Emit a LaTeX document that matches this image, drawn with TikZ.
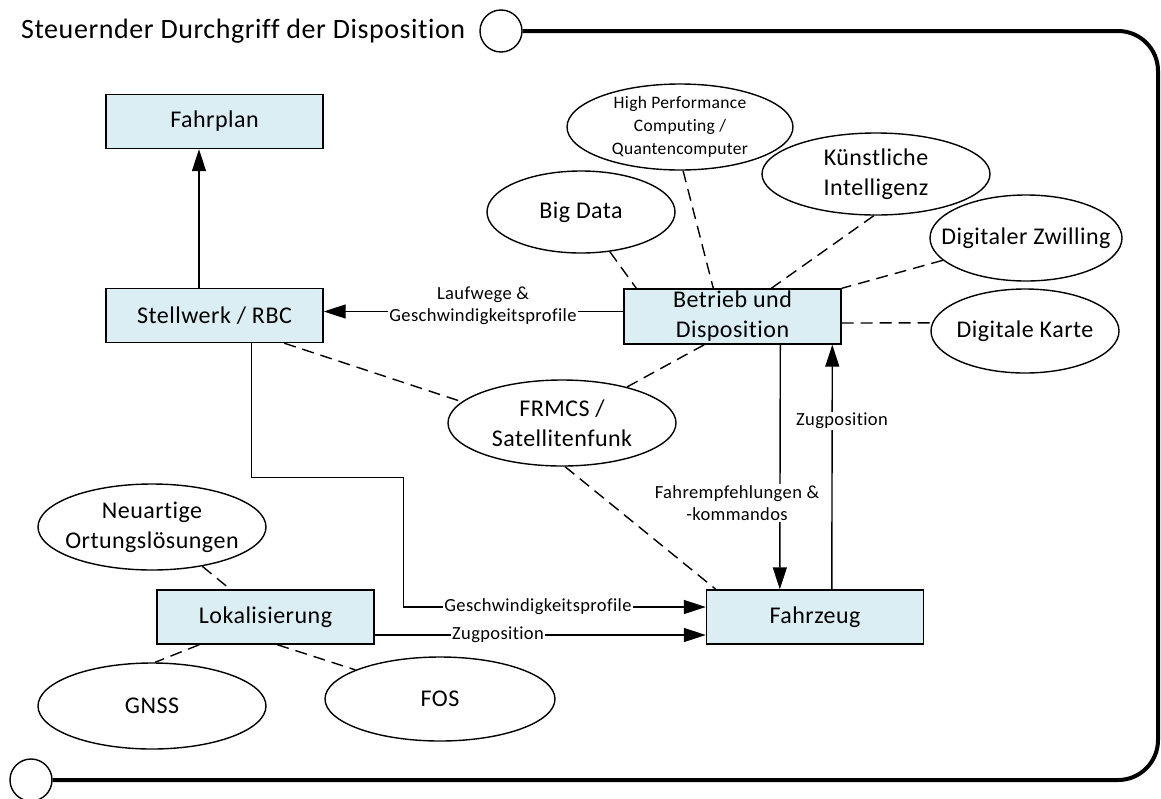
\documentclass[tikz,border=0pt]{standalone}
\usepackage{fontspec}
\setmainfont{Carlito}[Ligatures=NoCommon, LetterSpace=2]
\usetikzlibrary{arrows.meta,shapes.geometric,calc}
\definecolor{boxfill}{HTML}{DAEEF3}
\tikzset{
  stepbox/.style={draw, line width=1.4pt, fill=boxfill, inner sep=0pt,
    minimum width=217pt, minimum height=54pt, align=center,
    font=\fontsize{24}{30}\selectfont},
  oval/.style={draw, ellipse, line width=1.4pt, inner sep=0pt},
  ovaltext/.style={align=center, inner sep=0pt, font=\fontsize{24}{30}\selectfont},
  flowlabel/.style={fill=white, inner sep=1.5pt, align=center,
    font=\fontsize{18.5}{22}\selectfont},
  flow/.style={line width=1.4pt, -{Triangle[length=22pt,width=14pt]}},
  link/.style={line width=1.4pt, dash pattern=on 12pt off 7pt},
  frame/.style={line width=4pt},
  ring/.style={draw, circle, line width=1.4pt, minimum size=42pt, inner sep=0pt, fill=white},
}
\begin{document}
\begin{tikzpicture}[x=1pt, y=-1pt]
\useasboundingbox (0,0) rectangle (1161,798);

% title and frame
\node[anchor=west, inner sep=0pt, font=\fontsize{28}{34}\selectfont] (title) at (21,31)
  {Steuernder Durchgriff der Disposition};
\node[ring] (topc) at (501,31) {};
\node[ring] (botc) at (31,780) {};
\draw[frame, rounded corners=40pt] (topc.east) -- (1158,31) -- (1158,780) -- (botc.east);

% boxes
\node[stepbox] (fahrplan)  at (214.5,121.5) {Fahrplan};
\node[stepbox] (stellwerk) at (214.5,315.5) {Stellwerk / RBC};
\node[stepbox, minimum height=55pt] (betrieb) at (732.5,316.5) {Betrieb und\\Disposition};
\node[stepbox] (fahrzeug)  at (815,617) {Fahrzeug};
\node[stepbox] (lokal)     at (265.5,617) {Lokalisierung};

% technology ovals
\node[oval, minimum width=226pt, minimum height=86pt] (hpc) at (680,127) {};
\node[ovaltext, font=\fontsize{17.5}{23}\selectfont] at (hpc) {High Performance\\Computing /\\Quantencomputer};
\node[oval, minimum width=228pt, minimum height=82pt] (ki) at (876,174) {};
\node[ovaltext] at (ki) {Künstliche\\Intelligenz};
\node[oval, minimum width=188pt, minimum height=82pt] (bigdata) at (581,212) {};
\node[ovaltext] at (bigdata) {Big Data};
\node[oval, minimum width=192pt, minimum height=86pt] (zwilling) at (1026,238) {};
\node[ovaltext] at (zwilling) {Digitaler Zwilling};
\node[oval, minimum width=188pt, minimum height=84pt] (karte) at (1025,331) {};
\node[ovaltext] at (karte) {Digitale Karte};
\node[oval, minimum width=228pt, minimum height=86pt] (frmcs) at (562,423) {};
\node[ovaltext] at (frmcs) {FRMCS /\\Satellitenfunk};
\node[oval, minimum width=228pt, minimum height=86pt] (neu) at (152,527) {};
\node[ovaltext] at (neu) {Neuartige\\Ortungslösungen};
\node[oval, minimum width=228pt, minimum height=86pt] (gnss) at (152,706) {};
\node[ovaltext] at (gnss) {GNSS};
\node[oval, minimum width=230pt, minimum height=84pt] (fos) at (440,699) {};
\node[ovaltext] at (fos) {FOS};

% dashed relations
\draw[link] (bigdata.-54) -- ($(betrieb.north west)+(13,0)$);
\draw[link] (hpc.-86) -- ($(betrieb.north west)+(90,0)$);
\draw[link] (ki.-93) -- ($(betrieb.north west)+(148,0)$);
\draw[link] (zwilling.-165) -- (betrieb.north east);
\draw[link] ($(betrieb.east)+(0,6.5)$) -- (karte.175);
\draw[link] ($(stellwerk.south west)+(179,0)$) -- (frmcs.168);
\draw[link] (frmcs.29) -- ($(betrieb.south west)+(81,0)$);
\draw[link] (frmcs.-86) -- ($(fahrzeug.north west)+(10,0)$);
\draw[link] (neu.-38) -- ($(lokal.north west)+(74,0)$);
\draw[link] ($(lokal.south west)+(43,0)$) -- (gnss.86);
\draw[link] ($(lokal.south west)+(121,0)$) -- (fos.161.6);

% information flows
\draw[flow] ($(stellwerk.north)+(-15.5,0)$) -- ($(fahrplan.south)+(-15.5,0)$);
\draw[flow] ($(betrieb.west)+(0,-5)$) -- ($(stellwerk.east)+(0,-4)$);
\node[flowlabel] (lblLauf) at (483,306) {Laufwege \&\\Geschwindigkeitsprofile};

\draw[flow] ($(betrieb.south west)+(157,0)$) -- ($(fahrzeug.north west)+(74,0)$);
\node[flowlabel] (lblFahr) at (737,503) {Fahrempfehlungen \&\\-kommandos};

\draw[flow] ($(fahrzeug.north west)+(126,0)$) -- ($(betrieb.south west)+(209,0)$);
\node[flowlabel] (lblZug1) at (842,421) {Zugposition};

\draw[flow] ($(stellwerk.south west)+(146,0)$) -- ++(0,134) -- ++(152,0) |- ($(fahrzeug.west)+(0,-10)$);
\node[flowlabel] (lblGesch) at (538,607) {Geschwindigkeitsprofile};

\draw[flow] ($(lokal.east)+(0,18)$) -- ($(fahrzeug.west)+(0,18)$);
\node[flowlabel] (lblZug2) at (498,635) {Zugposition};
\end{tikzpicture}
\end{document}
